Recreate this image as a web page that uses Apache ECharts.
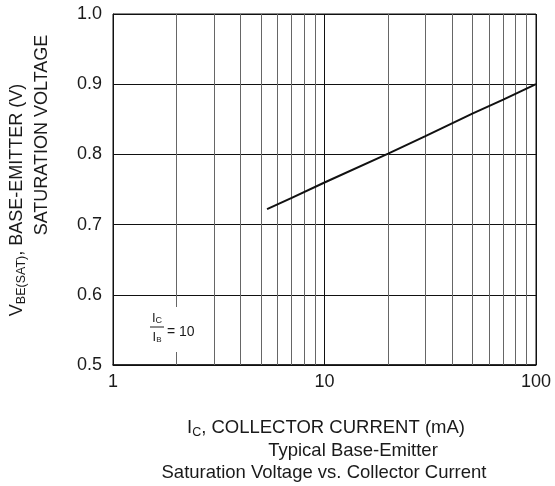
<!DOCTYPE html>
<html>
<head>
<meta charset="utf-8">
<script src="https://cdn.jsdelivr.net/npm/echarts@6/dist/echarts.min.js"></script>
<style>
html,body{margin:0;padding:0;background:#fff;}
#c{width:555px;height:486px;}
</style>
</head>
<body>
<div id="c"></div>
<script>
// Data
var currentMA = [5.35, 7, 10, 20, 30, 50, 70, 100];
var vbeSat = [0.722, 0.738, 0.760, 0.801, 0.826, 0.858, 0.878, 0.900];
var minorGridX = [2, 3, 4, 5, 6, 7, 8, 9, 20, 30, 40, 50, 60, 70, 80, 90];
var yTicks = [0.5, 0.6, 0.7, 0.8, 0.9, 1.0];

var FONT = 'Liberation Sans, Arial, sans-serif';
var TXT = '#1a1a1a';

var chart = echarts.init(document.getElementById('c'));
var lineData = currentMA.map(function (x, i) { return [x, vbeSat[i]]; });

chart.setOption({
  animation: false,
  backgroundColor: '#fff',
  grid: { left: 113, right: 19, top: 14, bottom: 121, show: true, borderColor: '#111', borderWidth: 1 },
  xAxis: {
    type: 'log', logBase: 10, min: 1, max: 100,
    axisLine: { show: true, lineStyle: { color: '#111', width: 1.5 } },
    axisTick: { show: false },
    axisLabel: { fontSize: 18, color: TXT, fontFamily: FONT, margin: 8 },
    splitLine: { show: true, lineStyle: { color: '#111', width: 1 } },
    minorTick: { show: false }, minorSplitLine: { show: false }
  },
  yAxis: {
    type: 'value', min: yTicks[0], max: yTicks[yTicks.length - 1], interval: 0.1,
    axisLine: { show: true, lineStyle: { color: '#111', width: 1 } },
    axisTick: { show: false },
    axisLabel: { fontSize: 18, color: TXT, fontFamily: FONT, margin: 11,
      formatter: function (v) { return v.toFixed(1); } },
    splitLine: { show: true, lineStyle: { color: '#111', width: 1 } }
  },
  series: [
    {
      type: 'line', data: [], silent: true,
      markLine: {
        silent: true, symbol: ['none', 'none'], label: { show: false },
        lineStyle: { color: '#666', width: 1, type: 'solid' },
        emphasis: { disabled: true },
        data: minorGridX.map(function (v) { return { xAxis: v }; })
      }
    },
    {
      type: 'line', data: lineData, showSymbol: false, symbol: 'none',
      smooth: false,
      lineStyle: { color: '#111', width: 2 }, z: 5
    }
  ],
  graphic: [
    // Ic/Ib = 10 annotation box
    { type: 'rect', z: 100, shape: { x: 146, y: 307, width: 54, height: 45 }, style: { fill: '#fff' } },
    { type: 'text', z: 101, x: 157, y: 318, style: {
        text: '{a|I}{s|C}', textAlign: 'center', textVerticalAlign: 'middle',
        rich: { a: { fontSize: 13, fontFamily: FONT, fill: TXT }, s: { fontSize: 9, fontFamily: FONT, fill: TXT, padding: [6, 0, 0, 0] } } } },
    { type: 'line', z: 101, shape: { x1: 150, y1: 327, x2: 164, y2: 327 }, style: { stroke: TXT, lineWidth: 1 } },
    { type: 'text', z: 101, x: 157, y: 337, style: {
        text: '{a|I}{s|B}', textAlign: 'center', textVerticalAlign: 'middle',
        rich: { a: { fontSize: 13, fontFamily: FONT, fill: TXT }, s: { fontSize: 8, fontFamily: FONT, fill: TXT, padding: [6, 0, 0, 0] } } } },
    { type: 'text', z: 101, x: 167, y: 332, style: {
        text: '= 10', font: '14px ' + FONT, fill: TXT, textAlign: 'left', textVerticalAlign: 'middle' } },
    // Y axis title (two lines, rotated)
    { type: 'text', x: 17, y: 200, rotation: Math.PI / 2, style: {
        text: '{a|V}{s|BE(SAT)}{a|, BASE-EMITTER (V)}', textAlign: 'center', textVerticalAlign: 'middle',
        rich: { a: { fontSize: 18, fontFamily: FONT, fill: TXT }, s: { fontSize: 12.5, fontFamily: FONT, fill: TXT, padding: [9, 0, 0, 0] } } } },
    { type: 'text', x: 42, y: 135, rotation: Math.PI / 2, style: {
        text: 'SATURATION VOLTAGE', font: '18px ' + FONT, fill: TXT, textAlign: 'center', textVerticalAlign: 'middle' } },
    // X axis title
    { type: 'text', x: 326, y: 428, style: {
        text: '{a|I}{s|C}{a|, COLLECTOR CURRENT (mA)}', textAlign: 'center', textVerticalAlign: 'middle',
        rich: { a: { fontSize: 18.5, fontFamily: FONT, fill: TXT }, s: { fontSize: 12.5, fontFamily: FONT, fill: TXT, padding: [9, 0, 0, 0] } } } },
    // Caption
    { type: 'text', x: 353, y: 451, style: {
        text: 'Typical Base-Emitter', font: '18.5px ' + FONT, fill: TXT, textAlign: 'center', textVerticalAlign: 'middle' } },
    { type: 'text', x: 324, y: 473, style: {
        text: 'Saturation Voltage vs. Collector Current', font: '18.5px ' + FONT, fill: TXT, textAlign: 'center', textVerticalAlign: 'middle' } }
  ]
});
</script>
</body>
</html>
